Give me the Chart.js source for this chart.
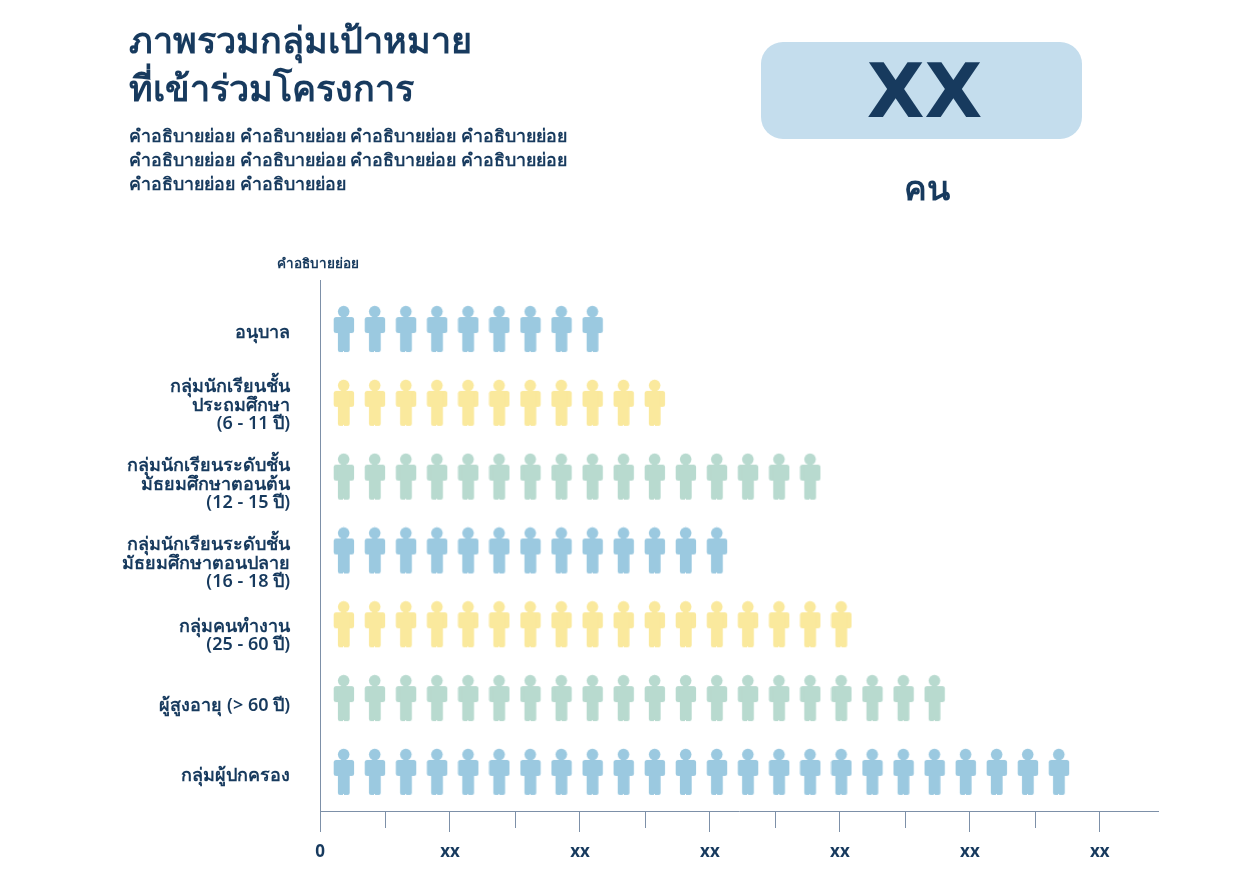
<!DOCTYPE html>
<html>
<head>
<meta charset="utf-8">
<script src="https://cdn.jsdelivr.net/npm/chart.js@4"></script>
<style>
  html, body { margin: 0; padding: 0; background: #fff; }
  #page { position: relative; width: 1248px; height: 876px; overflow: hidden; font-family: "Noto Sans", "Noto Sans CJK SC", sans-serif; color: #173a5e; }
  #page canvas { position: absolute; left: 0; top: 0; }
  .txt { position: absolute; white-space: nowrap; }
  #title { left: 129px; top: 16px; font-size: 36px; line-height: 48px; font-weight: 600; }
  #sub { left: 129px; top: 123px; font-size: 17.8px; line-height: 24px; font-weight: 600; }
  #box { position: absolute; left: 761px; top: 42px; width: 321px; height: 97px; border-radius: 22px; background: #c4dded; }
  #xx { left: 764px; top: 43px; width: 321px; text-align: center; font-family: "DejaVu Sans", sans-serif; font-size: 75px; line-height: 97px; font-weight: 700; }
  #unit { left: 761px; top: 163px; width: 332px; text-align: center; font-size: 34px; line-height: 48px; font-weight: 700; }
  #ytitle { left: 277px; top: 254px; font-size: 13.5px; line-height: 18px; font-weight: 600; }
</style>
</head>
<body>
<div id="page">
  <canvas id="chart" width="1248" height="876"></canvas>
  <div class="txt" id="title">ภาพรวมกลุ่มเป้าหมาย<br>ที่เข้าร่วมโครงการ</div>
  <div class="txt" id="sub">คำอธิบายย่อย คำอธิบายย่อย คำอธิบายย่อย คำอธิบายย่อย<br>คำอธิบายย่อย คำอธิบายย่อย คำอธิบายย่อย คำอธิบายย่อย<br>คำอธิบายย่อย คำอธิบายย่อย</div>
  <div id="box"></div>
  <div class="txt" id="xx">XX</div>
  <div class="txt" id="unit">คน</div>
  <div class="txt" id="ytitle">คำอธิบายย่อย</div>
</div>
<script>
// values
const categories = [
  ["อนุบาล"],
  ["กลุ่มนักเรียนชั้น", "ประถมศึกษา", "(6 - 11 ปี)"],
  ["กลุ่มนักเรียนระดับชั้น", "มัธยมศึกษาตอนต้น", "(12 - 15 ปี)"],
  ["กลุ่มนักเรียนระดับชั้น", "มัธยมศึกษาตอนปลาย", "(16 - 18 ปี)"],
  ["กลุ่มคนทำงาน", "(25 - 60 ปี)"],
  ["ผู้สูงอายุ (> 60 ปี)"],
  ["กลุ่มผู้ปกครอง"],
];
const counts = [9, 11, 16, 13, 17, 20, 24];
const rowColors = ["#9bc9e0", "#fae99d", "#b8dacf", "#9bc9e0", "#fae99d", "#b8dacf", "#9bc9e0"];
const xTickLabels = ["0", "", "xx", "", "xx", "", "xx", "", "xx", "", "xx", "", "xx"];

// axis ticks are not on whole persons in the original
const xTickStep = 2.09;
const firstIcon = 0.77;
const labelRows = [0.05, 1.04, 2.11, 3.18, 4.16, 5.1, 6.05];
const axisColor = "#7d90a8";
const inkColor = "#173a5e";

function personIcon(color) {
  const c = document.createElement("canvas");
  c.width = 22;
  c.height = 48;
  const g = c.getContext("2d");
  g.fillStyle = color;
  g.beginPath();
  g.arc(10.7, 6.6, 5.8, 0, Math.PI * 2);
  g.fill();
  g.beginPath();
  g.roundRect(0.7, 12, 20.4, 16, 2.5);
  g.fill();
  g.beginPath();
  g.roundRect(4.9, 14, 11.8, 33, [0, 0, 2, 2]);
  g.fill();
  g.clearRect(10.3, 46, 0.9, 2);
  return c;
}

const datasets = counts.map((count, row) => {
  const points = [];
  for (let i = 0; i < count; i++) points.push({ x: i + firstIcon, y: row });
  return {
    data: points,
    showLine: false,
    pointStyle: personIcon(rowColors[row]),
    pointRadius: 10,
  };
});

// the in-between ticks on the x axis are shorter than the labelled ones
const minorTicks = {
  id: "minorTicks",
  afterDatasetsDraw(chart) {
    const scale = chart.scales.x;
    const ctx = chart.ctx;
    ctx.save();
    ctx.strokeStyle = axisColor;
    ctx.lineWidth = 1;
    scale.ticks.forEach((t, i) => {
      if (i % 2 === 0) return;
      const px = Math.round(scale.getPixelForValue(t.value)) + 0.5;
      ctx.beginPath();
      ctx.moveTo(px, chart.chartArea.bottom);
      ctx.lineTo(px, chart.chartArea.bottom + 17);
      ctx.stroke();
    });
    ctx.restore();
  },
};

new Chart(document.getElementById("chart").getContext("2d"), {
  type: "scatter",
  data: { datasets },
  plugins: [minorTicks],
  options: {
    responsive: false,
    animation: false,
    layout: { padding: { top: 280, right: 90, left: 0, bottom: 0 } },
    plugins: { legend: { display: false }, tooltip: { enabled: false } },
    scales: {
      x: {
        type: "linear",
        min: 0,
        max: 26.95,
        afterBuildTicks(scale) {
          scale.ticks = xTickLabels.map((_, i) => ({ value: i * xTickStep }));
        },
        afterFit(scale) { scale.height = 65; },
        border: { color: axisColor, width: 1 },
        grid: {
          drawOnChartArea: false,
          tickLength: 21,
          tickColor: (ctx) => (ctx.index % 2 === 0 ? axisColor : "rgba(0,0,0,0)"),
        },
        ticks: {
          autoSkip: false,
          maxRotation: 0,
          padding: 10,
          color: inkColor,
          font: { family: '"Noto Sans", sans-serif', size: 17, weight: "700" },
          callback: (value, index) => xTickLabels[index],
        },
      },
      y: {
        type: "linear",
        reverse: true,
        min: -0.664,
        max: 6.53,
        afterBuildTicks(scale) {
          scale.ticks = labelRows.map((value) => ({ value }));
        },
        afterFit(scale) { scale.width = 320; },
        border: { color: axisColor, width: 1 },
        grid: { display: false, drawTicks: false },
        ticks: {
          autoSkip: false,
          padding: 30,
          color: inkColor,
          font: { family: '"Noto Sans", "Noto Sans CJK SC", sans-serif', size: 18, weight: "600", lineHeight: 1.03 },
          callback: (value, index) => categories[index],
        },
      },
    },
  },
});
</script>
</body>
</html>
